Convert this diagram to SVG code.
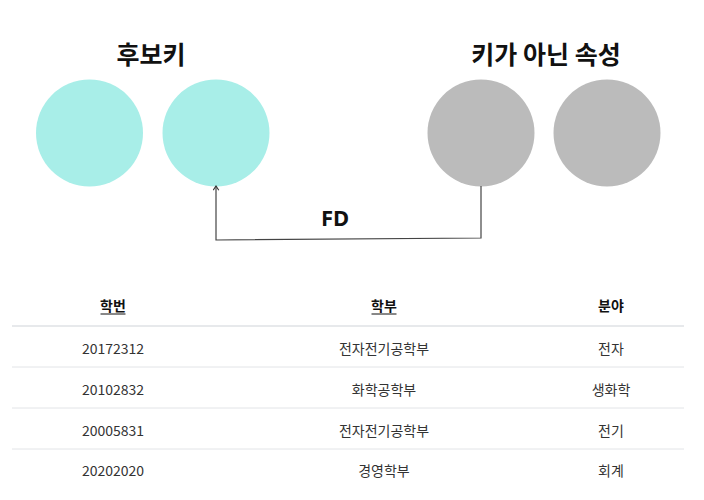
<svg xmlns="http://www.w3.org/2000/svg" width="704" height="500" viewBox="0 0 704 500">
<defs>
<style>
.cy{fill:#a8eee8}
.gr{fill:#bbbbbb}
.title{font-family:"Noto Sans CJK KR","Noto Sans",sans-serif;font-weight:bold;font-size:25px;fill:#111;text-anchor:middle}
.lbl{font-family:"Noto Sans","Noto Sans CJK KR",sans-serif;font-weight:bold;font-size:22px;fill:#111;text-anchor:middle}
.th{font-family:"Noto Sans CJK KR",sans-serif;font-weight:bold;font-size:14px;fill:#111;text-anchor:middle}
.td{font-family:"Noto Sans CJK KR",sans-serif;font-size:14px;fill:#333;text-anchor:middle}
.conn{fill:none;stroke:#444;stroke-width:1.2}
</style>
<marker id="ah" viewBox="0 0 10 10" refX="9" refY="5" markerWidth="7" markerHeight="7" orient="auto" markerUnits="userSpaceOnUse">
<path d="M3,1 L9,5 L3,9" fill="none" stroke="#333" stroke-width="1.6"/>
</marker>
</defs>
<rect width="704" height="500" fill="#fff"/>
<g id="title-candidate"><text class="title" x="151" y="64">후보키</text></g>
<g id="title-nonkey"><text class="title" x="546" y="64">키가 아닌 속성</text></g>
<g id="node-c1"><circle class="cy" cx="89.5" cy="133" r="53.5"/></g>
<g id="node-c2"><circle class="cy" cx="216" cy="133" r="53.5"/></g>
<g id="node-g1"><circle class="gr" cx="481" cy="133" r="53.5"/></g>
<g id="node-g2"><circle class="gr" cx="607" cy="133" r="53.5"/></g>
<g id="connectors">
<path class="conn" d="M481,186 L481,238 L216,240 L216,186" marker-end="url(#ah)"/>
<text class="lbl" x="335" y="226">FD</text>
</g>
<g id="table">
<text class="th" x="113" y="311">학번</text>
<line x1="100.5" y1="314" x2="125.5" y2="314" stroke="#111" stroke-width="1"/>
<text class="th" x="384" y="311">학부</text>
<line x1="371.5" y1="314" x2="396.5" y2="314" stroke="#111" stroke-width="1"/>
<text class="th" x="611" y="311">분야</text>
<line x1="12" y1="326" x2="684" y2="326" stroke="#cfd3d8" stroke-width="1"/>
<line x1="12" y1="367" x2="684" y2="367" stroke="#e2e4e7" stroke-width="1"/>
<line x1="12" y1="408" x2="684" y2="408" stroke="#e2e4e7" stroke-width="1"/>
<line x1="12" y1="449" x2="684" y2="449" stroke="#e2e4e7" stroke-width="1"/>
<text class="td" x="113" y="354">20172312</text>
<text class="td" x="384" y="354">전자전기공학부</text>
<text class="td" x="611" y="354">전자</text>
<text class="td" x="113" y="395">20102832</text>
<text class="td" x="384" y="395">화학공학부</text>
<text class="td" x="611" y="395">생화학</text>
<text class="td" x="113" y="436">20005831</text>
<text class="td" x="384" y="436">전자전기공학부</text>
<text class="td" x="611" y="436">전기</text>
<text class="td" x="113" y="476">20202020</text>
<text class="td" x="384" y="476">경영학부</text>
<text class="td" x="611" y="476">회계</text>
</g>
</svg>
